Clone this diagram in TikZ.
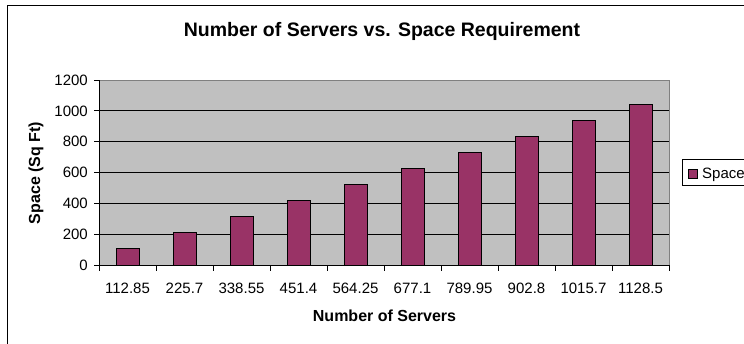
\documentclass[tikz,border=0pt]{standalone}
\usepackage{fontspec}
\setmainfont{Liberation Sans}
\definecolor{plotgrey}{HTML}{C0C0C0}
\definecolor{barplum}{HTML}{993366}
\definecolor{edgegrey}{HTML}{808080}
\begin{document}
\begin{tikzpicture}[x=1pt,y=-1pt,
  ticklabel/.style={font=\fontsize{15}{18}\selectfont, inner sep=0pt},
  axistitle/.style={font=\fontsize{16}{19}\selectfont\bfseries, inner sep=0pt},
  charttitle/.style={font=\fontsize{19.5}{23}\selectfont\bfseries, inner sep=0pt},
  gridline/.style={black, line width=0.9pt},
  barbox/.style={fill=barplum, draw=black, line width=0.9pt},
  tickmark/.style={black, line width=0.9pt}]
% value scale: 185 px per 1200 units, zero at y=265
\pgfmathsetmacro{\vs}{185/1200}
\useasboundingbox (0,0) rectangle (744,343);
\clip (0,0) rectangle (744,343);
\fill[white] (0,0) rectangle (744,343);
% chart frame (runs past the page on the right and bottom)
\draw[black, line width=1pt] (7,5) rectangle (790,390);
% plot area
\fill[plotgrey] (99,80) rectangle (669,265);
\draw[edgegrey, line width=0.9pt] (99,80) -- (669,80) -- (669,265);
\foreach \v in {200,400,600,800,1000}
  \draw[gridline] (99,{265-\v*\vs}) -- (669,{265-\v*\vs});
% bars
\foreach \k in {1,...,10}
  \draw[barbox] ({99+57*\k-28.5-11.5},265) rectangle ({99+57*\k-28.5+11.5},{265-104.35*\vs*\k});
% axes
\draw[black, line width=0.9pt] (99,80) -- (99,265) -- (669,265);
% value axis ticks and labels
\foreach \v in {0,200,400,600,800,1000,1200} {
  \draw[tickmark] (94,{265-\v*\vs}) -- (99,{265-\v*\vs});
  \node[ticklabel, anchor=east] (ylab\v) at (88,{265-\v*\vs}) {\v};
}
% category axis ticks
\foreach \k in {0,...,10}
  \draw[tickmark] ({99+57*\k},265) -- ({99+57*\k},270.5);
% category labels
\foreach \k/\t in {1/112.85,2/225.7,3/338.55,4/451.4,5/564.25,6/677.1,7/789.95,8/902.8,9/1015.7,10/1128.5}
  \node[ticklabel, anchor=base] (xlab\k) at ({99+57*\k-28.5},293.5) {\t};
% titles
\node[charttitle, anchor=base] (title) at (382,36.7) {Number of Servers vs. Space Requirement};
\node[axistitle, anchor=base] (xtitle) at (384.5,321.7) {Number of Servers};
\node[axistitle, anchor=base, rotate=90] (ytitle) at (40,173) {Space (Sq Ft)};
% legend
\draw[black, line width=0.9pt] (682,159) rectangle (800,185);
\draw[barbox] (688.5,169.5) rectangle (697.5,178);
\node[ticklabel, anchor=base west] (legtext) at (702,178.5) {Space};
\end{tikzpicture}
\end{document}
